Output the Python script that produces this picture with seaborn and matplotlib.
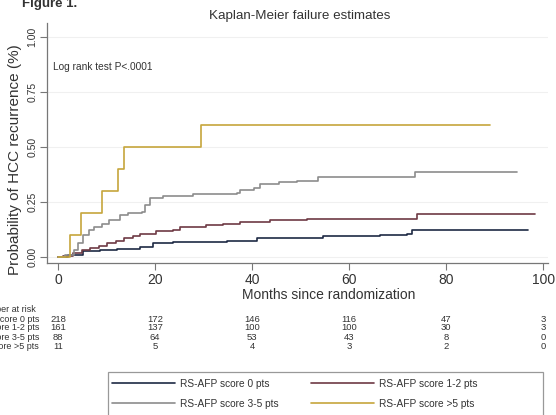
import numpy as np
import pandas as pd
import matplotlib
matplotlib.use("Agg")
import matplotlib.pyplot as plt
import matplotlib.transforms as mtransforms
from matplotlib.patches import Rectangle
import seaborn as sns

# ---- data ----
groups = ["RS-AFP score 0 pts", "RS-AFP score 1-2 pts",
          "RS-AFP score 3-5 pts", "RS-AFP score >5 pts"]

t_score0 = [0, 2.0, 5.2, 8.6, 12.1, 17.0, 19.6, 23.8, 30.6, 34.8, 41.0, 51.3,
            54.7, 66.4, 71.9, 72.9, 96.9]
p_score0 = [0, .01, .027, .03, .035, .047, .062, .067, .07, .074, .085, .088,
            .095, .10, .107, .123, .123]

t_score12 = [0, 1.0, 3.1, 5.0, 6.6, 8.5, 10.0, 12.0, 13.5, 15.5, 17.0, 20.3,
             23.8, 25.2, 30.6, 34.0, 37.5, 43.0, 43.7, 51.3, 60.8, 74.0, 98.3]
p_score12 = [0, .005, .018, .03, .04, .05, .062, .075, .086, .096, .105, .118,
             .123, .138, .145, .15, .158, .16, .168, .171, .175, .195, .195]

t_score35 = [0, 1.5, 3.2, 4.2, 5.2, 6.3, 7.5, 9.0, 10.5, 12.8, 14.5, 17.3,
             17.9, 19.0, 21.7, 27.9, 36.8, 37.5, 40.3, 41.6, 45.5, 49.2, 53.6,
             73.6, 94.6]
p_score35 = [0, .011, .032, .065, .10, .123, .135, .15, .17, .191, .20, .206,
             .236, .267, .277, .286, .292, .305, .312, .332, .34, .347, .364,
             .388, .388]

t_score5p = [0, 2.5, 4.7, 9.1, 12.3, 13.5, 29.4, 89.0]
p_score5p = [0, .1, .2, .3, .4, .5, .6, .6]

risk_times = [0, 20, 40, 60, 80, 100]
risk_score0 = [218, 172, 146, 116, 47, 3]
risk_score12 = [161, 137, 100, 100, 30, 3]
risk_score35 = [88, 64, 53, 43, 8, 0]
risk_score5p = [11, 5, 4, 3, 2, 0]

x_ticks = [0, 20, 40, 60, 80, 100]
y_ticks = [0.0, 0.25, 0.5, 0.75, 1.0]
y_ticklabels = ["0.00", "0.25", "0.50", "0.75", "1.00"]

colors = ["#1e2a44", "#6e3a44", "#8c8c8c", "#c6a63c"]
TXT = "#333333"

# ---- build long table ----
frames = []
for g, t, p in zip(groups,
                   [t_score0, t_score12, t_score35, t_score5p],
                   [p_score0, p_score12, p_score35, p_score5p]):
    frames.append(pd.DataFrame({"time": t, "prob": p, "group": g}))
df = pd.concat(frames, ignore_index=True)

sns.set_theme(style="white")
plt.rcParams["font.family"] = ["Liberation Sans", "DejaVu Sans"]

W, H = 556, 415
fig = plt.figure(figsize=(W / 100, H / 100), dpi=100)
ax = fig.add_axes([47 / W, 1 - 263 / H, (548 - 47) / W, (263 - 23) / H])

sns.lineplot(data=df, x="time", y="prob", hue="group", hue_order=groups,
             palette=colors, drawstyle="steps-post", linewidth=1.2,
             estimator=None, sort=False, ax=ax)

ax.set_xlim(-2.27, 101.0)
ax.set_ylim(-0.027, 1.064)
ax.set_xticks(x_ticks)
ax.set_xticklabels([str(v) for v in x_ticks], fontsize=10, color=TXT)
ax.set_yticks(y_ticks)
ax.set_yticklabels(y_ticklabels, fontsize=7.5, rotation=90, va="center",
                   color=TXT)
ax.tick_params(axis="both", which="major", direction="out", length=5,
               width=0.8, color="#777777", bottom=True, left=True, pad=2)
for s in ["top", "right"]:
    ax.spines[s].set_visible(False)
for s in ["left", "bottom"]:
    ax.spines[s].set_color("#777777")
    ax.spines[s].set_linewidth(0.9)
ax.yaxis.grid(True, color="#f0f0f0", linewidth=0.8)
ax.set_axisbelow(True)
ax.set_xlabel("")
ax.set_ylabel("")

# axis titles
fig.text(329 / W, 1 - 295 / H, "Months since randomization", fontsize=10,
         ha="center", va="center", color=TXT)
fig.text(15 / W, 1 - 160 / H, "Probability of HCC recurrence (%)",
         fontsize=11, rotation=90, ha="center", va="center", color=TXT)

fig.text(53 / W, 1 - 70 / H, "Log rank test P<.0001", fontsize=7.3,
         color=TXT, va="baseline")
fig.text(300 / W, 1 - 19 / H, "Kaplan-Meier failure estimates", fontsize=9.6,
         ha="center", va="baseline", color=TXT)
fig.text(22 / W, 1 - 7 / H, "Figure 1.", fontsize=9.5, fontweight="bold",
         ha="left", va="baseline", color=TXT)

# ---- risk table ----
trans = mtransforms.blended_transform_factory(ax.transData, fig.transFigure)
fig.text(36 / W, 1 - 309 / H, "Number at risk", fontsize=6.5, ha="right",
         va="center", color=TXT)
row_y = [319, 328, 337, 346]
for g, vals, yy in zip(groups,
                       [risk_score0, risk_score12, risk_score35, risk_score5p],
                       row_y):
    fig.text(39 / W, 1 - yy / H, g, fontsize=6.5, ha="right", va="center",
             color=TXT)
    for tt, v in zip(risk_times, vals):
        ax.text(tt, 1 - yy / H, str(v), transform=trans, fontsize=6.8,
                ha="center", va="center", color=TXT)

# ---- legend (row-wise order like the reference) ----
handles, labels = ax.get_legend_handles_labels()
order = [0, 2, 1, 3]
ax.get_legend().remove()
leg = ax.legend([handles[i] for i in order], [labels[i] for i in order],
                loc="upper left", bbox_to_anchor=(112 / W, 1 - 379 / H),
                bbox_transform=fig.transFigure, ncol=2, frameon=False,
                fontsize=7.3, handlelength=6.2, handletextpad=0.5,
                columnspacing=3.2, borderpad=0, labelspacing=0.95,
                borderaxespad=0)
for line in leg.get_lines():
    line.set_linewidth(1.2)
for t in leg.get_texts():
    t.set_color(TXT)
fig.patches.append(Rectangle((108 / W, 1 - 440 / H), (543 - 108) / W,
                             (440 - 372) / H, transform=fig.transFigure,
                             fill=False, edgecolor="#999999", linewidth=0.9))

fig.savefig("out.png", dpi=100, facecolor="white")
